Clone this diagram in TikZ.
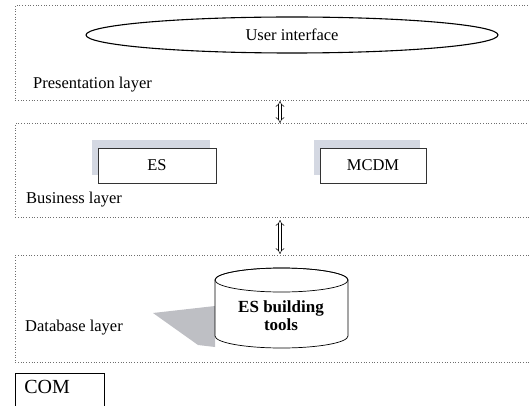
\documentclass[tikz,border=0pt]{standalone}
\usepackage{fontspec}
\setmainfont{Liberation Serif}
\usetikzlibrary{arrows.meta,shapes.geometric,shadows,positioning}
\definecolor{shadowgray}{RGB}{212,216,226}
\definecolor{dropgray}{RGB}{190,191,196}
\definecolor{dotgray}{RGB}{110,110,110}
\tikzset{
  layer/.style={draw=dotgray, dotted, line width=0.7pt, anchor=north west, inner sep=0pt},
  module/.style={draw=black!80, line width=0.6pt, fill=white, minimum width=118pt, minimum height=35pt,
    font=\fontsize{16.5}{18}\selectfont,
    drop shadow={shadow xshift=-6pt, shadow yshift=8pt, fill=shadowgray, opacity=1}},
  link/.style={double, double distance=2.6pt, line width=0.5pt, {Implies}-{Implies}},
  laytext/.style={anchor=west, inner sep=0pt, font=\fontsize{16.5}{18}\selectfont}
}
\begin{document}
\begin{tikzpicture}[x=1pt, y=-1pt]
      \useasboundingbox (0,0) rectangle (529,406);
      % layers
      \node (pres) at (15,5) [layer, minimum width=530pt, minimum height=95pt] {};
      \node (bus) at (15,123) [layer, minimum width=530pt, minimum height=94pt] {};
      \node (data) at (15,255) [layer, minimum width=530pt, minimum height=107pt] {};
      \node (prestext) at (33,85) [laytext] {Presentation layer};
      \node (bustext) at (26,200) [laytext] {Business layer};
      \node (datatext) at (25,328) [laytext] {Database layer};
      % presentation
      \node (ui) at (292,35) [ellipse, draw, line width=1.1pt, minimum width=412pt, minimum height=36pt,
        font=\fontsize{16.5}{18}\selectfont] {User interface};
      % business
      \node (es) at (157,165.5) [module] {ES};
      \node (mcdm) at (373,165.5) [module, minimum width=106pt] {MCDM};
      % database
      \fill[dropgray] (153,313) -- (215,306) -- (215,347) -- (198,345) -- cycle;
      \filldraw[fill=white, line width=0.7pt] (215,280) -- (215,336)
        arc[start angle=180, end angle=360, x radius=66.5pt, y radius=12pt] -- (348,280)
        arc[start angle=0, end angle=180, x radius=66.5pt, y radius=12pt] -- cycle;
      \draw[line width=0.7pt] (281.5,280) ellipse[x radius=66.5pt, y radius=12pt];
      \node (tools) at (281,316) [align=center, font=\bfseries\fontsize{17}{18}\selectfont] {ES building\\tools};
      % COM
      \node (com) at (15,373) [draw, line width=0.6pt, anchor=north west, minimum width=83pt, minimum height=40pt,
        font=\fontsize{20}{22}\selectfont, text width=71pt, inner xsep=9pt, inner ysep=6pt, align=left, text depth=12pt] {COM};
      % links
      \coordinate (l1a) at (280,101);
      \coordinate (l1b) at (280,123);
      \coordinate (l2a) at (280,220);
      \coordinate (l2b) at (280,254);
      \foreach \source/\dest in {l1a/l1b, l2a/l2b}
        \draw[link] (\source) -- (\dest);
    \end{tikzpicture}
\end{document}
